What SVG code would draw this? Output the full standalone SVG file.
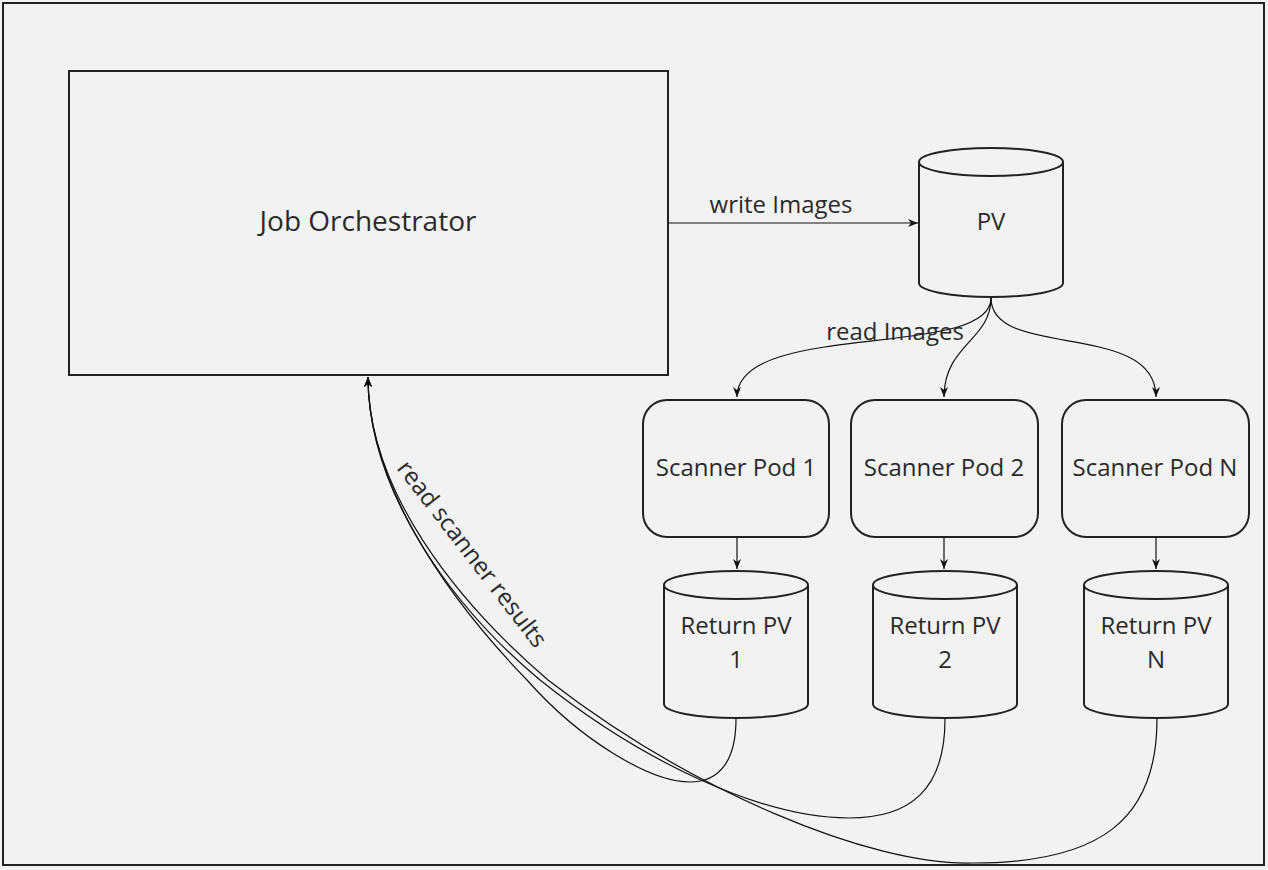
<svg xmlns="http://www.w3.org/2000/svg" width="1268" height="870" viewBox="0 0 1268 870">
<defs>
<marker id="arr" viewBox="0 0 10 10" refX="10" refY="5" markerWidth="10" markerHeight="10" markerUnits="userSpaceOnUse" orient="auto">
<path d="M0,1 L10,5 L0,9 L3,5 Z" fill="#111"/>
</marker>
</defs>
<style>
.t{font-family:"Open Sans","Noto Sans",sans-serif;fill:#2a2a2a;text-anchor:middle;font-size:24px}
.n{fill:#f2f2f2;stroke:#222;stroke-width:2}
.c{fill:none;stroke:#111;stroke-width:1.2}
</style>
<rect x="0" y="0" width="1268" height="870" fill="#f2f2f2"/>
<rect x="3" y="3" width="1261" height="862" fill="#f2f2f2" stroke="#222" stroke-width="2"/>
<g id="orchestrator">
<rect class="n" x="69" y="71" width="599" height="304"/>
<text class="t" x="368" y="231" style="font-size:28px">Job Orchestrator</text>
</g>
<g id="pv">
<path class="n" d="M919,162 A72,14 0 0 1 1063,162 L1063,283 A72,14 0 0 1 919,283 Z"/>
<path class="n" d="M919,162 A72,14 0 0 0 1063,162"/>
<text class="t" x="991" y="230">PV</text>
</g>
<g id="pod1">
<rect class="n" x="643" y="400" width="186" height="137" rx="24"/>
<text class="t" x="736" y="476">Scanner Pod 1</text>
</g>
<g id="pod2">
<rect class="n" x="851" y="400" width="187" height="137" rx="24"/>
<text class="t" x="944" y="476">Scanner Pod 2</text>
</g>
<g id="podN">
<rect class="n" x="1062" y="400" width="187" height="137" rx="24"/>
<text class="t" x="1155" y="476">Scanner Pod N</text>
</g>
<g id="rpv1">
<path class="n" d="M664,585 A72,14 0 0 1 808,585 L808,704 A72,14 0 0 1 664,704 Z"/>
<path class="n" d="M664,585 A72,14 0 0 0 808,585"/>
<text class="t" x="736" y="634">Return PV</text>
<text class="t" x="736" y="668">1</text>
</g>
<g id="rpv2">
<path class="n" d="M873,585 A72,14 0 0 1 1017,585 L1017,704 A72,14 0 0 1 873,704 Z"/>
<path class="n" d="M873,585 A72,14 0 0 0 1017,585"/>
<text class="t" x="945" y="634">Return PV</text>
<text class="t" x="945" y="668">2</text>
</g>
<g id="rpvN">
<path class="n" d="M1084,585 A72,14 0 0 1 1228,585 L1228,704 A72,14 0 0 1 1084,704 Z"/>
<path class="n" d="M1084,585 A72,14 0 0 0 1228,585"/>
<text class="t" x="1156" y="634">Return PV</text>
<text class="t" x="1156" y="668">N</text>
</g>
<g id="connectors">
<path class="c" d="M669,223 L918,223" marker-end="url(#arr)"/>
<text class="t" x="781" y="213">write Images</text>
<path class="c" d="M991,298 C991,360 737,320 737,397" marker-end="url(#arr)"/>
<path class="c" d="M991,298 C991,340 944,345 944,397" marker-end="url(#arr)"/>
<path class="c" d="M991,298 C991,360 1156,320 1156,397" marker-end="url(#arr)"/>
<text class="t" x="895" y="340">read Images</text>
<path class="c" d="M737,538 L737,569" marker-end="url(#arr)"/>
<path class="c" d="M944,538 L944,569" marker-end="url(#arr)"/>
<path class="c" d="M1156,538 L1156,569" marker-end="url(#arr)"/>
<path class="c" d="M736,719 C736,760 720,782 690,782 C650,782 580,740 527,680 C440,590 368,480 368,377" marker-end="url(#arr)"/>
<path class="c" d="M945,719 C945,790 910,818 849,818 C760,818 640,760 540,680 C450,605 368,490 368,377" marker-end="url(#arr)"/>
<path class="c" d="M1157,719 C1157,820 1100,863 973,863 C870,866 690,790 548,680 C455,600 368,490 368,377" marker-end="url(#arr)"/>
<text class="t" transform="translate(472,554) rotate(52.4)" x="0" y="8">read scanner results</text>
</g>
</svg>
